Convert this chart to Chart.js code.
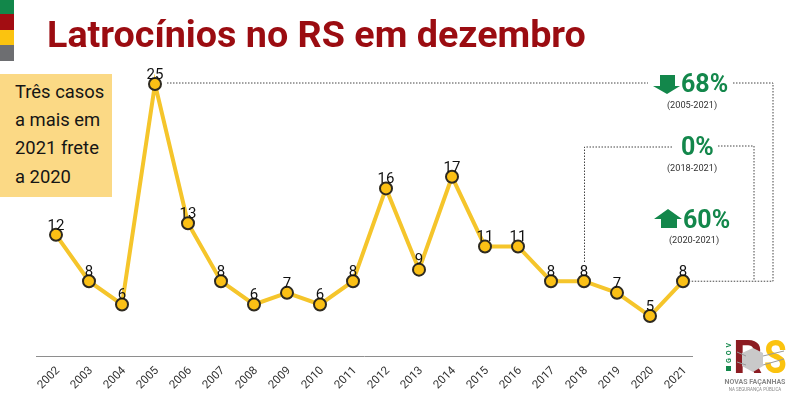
<!DOCTYPE html>
<html lang="pt-BR">
<head>
<meta charset="utf-8">
<title>Latrocínios no RS em dezembro</title>
<script src="https://cdn.jsdelivr.net/npm/chart.js@4"></script>
<style>
  html, body { margin: 0; padding: 0; background: #fff; }
  #wrap { position: relative; width: 800px; height: 408px; overflow: hidden; font-family: Roboto, sans-serif; }
  #grafico { position: absolute; left: 0; top: 0; }
  h1 { position: absolute; left: 47px; top: 12px; margin: 0; font-size: 37.7px; line-height: 44px; font-weight: 700; color: #9b0c11; white-space: nowrap; }
  #nota { position: absolute; left: 0; top: 74px; width: 97px; height: 123px; padding-left: 15px; background: #fbd985; color: #151515; font-size: 18.4px; line-height: 28.2px; }
  #nota div:first-child { margin-top: 4px; }
  .faixa { position: absolute; left: 0; width: 14px; }
</style>
</head>
<body>
<div id="wrap">
  <div class="faixa" style="top:0;height:14px;background:#12874a"></div>
  <div class="faixa" style="top:14px;height:16px;background:#a20d12"></div>
  <div class="faixa" style="top:30px;height:15px;background:#fbc30f"></div>
  <div class="faixa" style="top:45px;height:16px;background:#6d6e71"></div>
  <canvas id="grafico" width="800" height="408"></canvas>
  <h1>Latrocínios no RS em dezembro</h1>
  <div id="nota"><div>Três casos</div><div>a mais em</div><div>2021 frete</div><div>a 2020</div></div>
</div>
<script>
const anos = ['2002', '2003', '2004', '2005', '2006', '2007', '2008', '2009', '2010', '2011',
    '2012', '2013', '2014', '2015', '2016', '2017', '2018', '2019', '2020', '2021'];
const casos = [12, 8, 6, 25, 13, 8, 6, 7, 6, 8, 16, 9, 17, 11, 11, 8, 8, 7, 5, 8];

const verde = '#13874b';

// numeros em cima dos pontos
const rotulos = {
    id: 'rotulos',
    afterDatasetsDraw(chart) {
        const c = chart.ctx;
        c.save();
        c.font = '15px Roboto';
        c.fillStyle = '#111';
        c.textAlign = 'center';
        c.textBaseline = 'middle';
        chart.getDatasetMeta(0).data.forEach((p, i) => {
            c.fillText(casos[i], p.x, p.y - 9);
        });
        c.restore();
    }
};

function tracejado(c, pts) {
    c.beginPath();
    pts.forEach((p, i) => i ? c.lineTo(p[0], p[1]) : c.moveTo(p[0], p[1]));
    c.stroke();
}

// linhas pontilhadas, percentuais e logo
const anotacoes = {
    id: 'anotacoes',
    afterDraw(chart) {
        const c = chart.ctx;
        const x = chart.scales.x;
        const y = chart.scales.y;
        const y25 = y.getPixelForValue(25);
        const y8 = y.getPixelForValue(8);
        const x2005 = x.getPixelForValue('2005');
        const x2018 = x.getPixelForValue('2018');
        const x2021 = x.getPixelForValue('2021');

        c.save();
        // eixo
        c.strokeStyle = '#8e8e8e';
        c.lineWidth = 1;
        tracejado(c, [[36, 356.5], [693, 356.5]]);

        c.strokeStyle = '#444';
        c.setLineDash([1.5, 1.5]);
        tracejado(c, [[x2005 + 12, y25 - 1], [648, y25 - 1]]);
        tracejado(c, [[733, y25 - 1], [773, y25 - 1], [773, y8], [x2021 + 6, y8]]);
        tracejado(c, [[x2018 + 0.5, 262], [x2018 + 0.5, 147], [673, 147]]);
        tracejado(c, [[718, 146], [754, 146], [754, y8]]);
        c.setLineDash([]);

        // percentuais
        c.fillStyle = verde;
        c.textAlign = 'left';
        c.textBaseline = 'alphabetic';
        c.font = 'bold 25px Roboto';
        c.fillText('68%', 681, 92);
        c.fillText('0%', 681, 155);
        c.fillText('60%', 683, 228);

        // setas
        c.beginPath();
        [[660, 75], [675, 75], [675, 86], [680, 86], [667, 94], [653, 86], [660, 86]].forEach((p, i) => i ? c.lineTo(p[0], p[1]) : c.moveTo(p[0], p[1]));
        c.closePath();
        c.fill();
        c.beginPath();
        [[668, 209], [682, 219], [677, 219], [677, 228], [661, 228], [661, 219], [654, 219]].forEach((p, i) => i ? c.lineTo(p[0], p[1]) : c.moveTo(p[0], p[1]));
        c.closePath();
        c.fill();

        // periodos
        c.fillStyle = '#333';
        c.font = '9.2px Roboto';
        c.textAlign = 'center';
        c.fillText('(2005-2021)', 692, 108);
        c.fillText('(2018-2021)', 692, 171);
        c.fillText('(2020-2021)', 694, 243);

        // logo
        c.font = 'bold 46px Roboto';
        c.textAlign = 'left';
        c.fillStyle = '#8c1c22';
        c.fillText('R', 733, 373);
        c.save();
        c.translate(764, 373);
        c.scale(0.8, 1);
        c.fillStyle = '#fbc30f';
        c.fillText('S', 0, 0);
        c.restore();
        c.fillStyle = '#c9c9c9';
        c.beginPath();
        [[742, 353], [753, 348], [763, 353], [763, 366], [753, 372], [742, 366]].forEach((p, i) => i ? c.lineTo(p[0], p[1]) : c.moveTo(p[0], p[1]));
        c.closePath();
        c.fill();
        c.strokeStyle = '#9a9a9a';
        c.lineWidth = 1;
        tracejado(c, [[737, 352], [746, 356]]);
        tracejado(c, [[737, 362], [746, 365]]);
        tracejado(c, [[763, 356], [784, 351]]);
        tracejado(c, [[763, 365], [784, 359]]);
        c.fillStyle = '#12874a';
        c.fillRect(726, 366, 5, 5);
        c.fillStyle = '#8a8a8a';
        c.font = 'bold 7px Roboto';
        c.textAlign = 'center';
        c.fillText('NOVAS FAÇANHAS', 755, 384);
        c.font = '4.5px Roboto';
        c.fillText('NA SEGURANÇA PÚBLICA', 755, 391);
        c.translate(731, 363);
        c.rotate(-Math.PI / 2);
        c.fillStyle = '#12874a';
        c.font = 'bold 7px Roboto';
        c.letterSpacing = '3px';
        c.textAlign = 'left';
        c.fillText('GOV', 0, 0);
        c.restore();
    }
};

new Chart(document.getElementById('grafico'), {
    type: 'line',
    data: {
        labels: anos,
        datasets: [{
            data: casos,
            borderColor: '#f5c52b',
            borderWidth: 4,
            tension: 0,
            pointRadius: 6,
            pointHoverRadius: 6,
            pointBackgroundColor: '#fbc015',
            pointBorderColor: '#2e2a20',
            pointBorderWidth: 2,
            clip: false
        }]
    },
    options: {
        responsive: false,
        animation: false,
        layout: { padding: { left: 39.5, right: 100.5, top: 60, bottom: 0 } },
        plugins: { legend: { display: false }, tooltip: { enabled: false } },
        scales: {
            x: {
                offset: true,
                grid: { display: false, drawTicks: false },
                border: { display: false },
                afterFit(scale) { scale.height = 48; },
                ticks: { color: '#333', font: { family: 'Roboto', size: 11.5 }, minRotation: 45, maxRotation: 45, autoSkip: false, padding: 4, labelOffset: 2 }
            },
            y: {
                display: false,
                min: 1.21,
                max: 27.07,
                afterFit(scale) { scale.width = 0; }
            }
        }
    },
    plugins: [rotulos, anotacoes]
});
</script>
</body>
</html>
